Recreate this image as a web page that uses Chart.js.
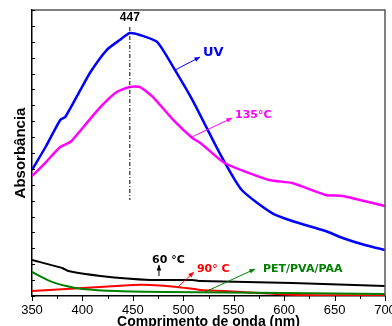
<!DOCTYPE html>
<html>
<head>
<meta charset="utf-8">
<script src="https://cdn.jsdelivr.net/npm/chart.js@4"></script>
<style>
	body { margin: 0; background: #fff; }
	#wrap { width: 392px; height: 326px; }
</style>
</head>
<body>
<div id="wrap"><canvas id="chart" width="392" height="326"></canvas></div>
<script>
// comprimento de onda (nm) e absorbância
const uvX = [350, 364, 378, 383, 398, 408, 424, 437, 447, 457, 474, 490, 509, 536, 558, 588, 608, 641, 658, 680, 700];
const uvY = [0.793, 0.944, 1.108, 1.127, 1.297, 1.41, 1.548, 1.611, 1.655, 1.643, 1.599, 1.441, 1.234, 0.9, 0.667, 0.522, 0.472, 0.409, 0.365, 0.321, 0.29];

const t135X = [350, 363, 378, 388, 401, 418, 434, 447, 457, 470, 490, 509, 517, 541, 585, 608, 641, 658, 700];
const t135Y = [0.755, 0.837, 0.938, 0.969, 1.064, 1.19, 1.284, 1.315, 1.315, 1.252, 1.108, 0.994, 0.963, 0.837, 0.73, 0.711, 0.636, 0.629, 0.566];

const t60X = [350, 380, 386, 418, 467, 509, 517, 608, 700];
const t60Y = [0.227, 0.176, 0.157, 0.126, 0.101, 0.101, 0.094, 0.082, 0.063];

const t90X = [350, 384, 450, 467, 494, 517, 541, 608, 650, 700];
const t90Y = [0.031, 0.044, 0.069, 0.069, 0.057, 0.038, 0.031, 0.008, 0.005, 0.004];

const petX = [350, 368, 384, 400, 434, 484, 600, 700];
const petY = [0.151, 0.094, 0.063, 0.044, 0.031, 0.025, 0.019, 0.013];

const xTicks = [350, 400, 450, 500, 550, 600, 650, 700];

const peak = 447;

// rótulos com seta: [texto, cor, x0, y0, x1, y1, xTexto, yTexto, tamanho]
const labels = [
	['UV', '#0000ff', 491.8, 1.422, 516.6, 1.504, 519.5, 1.529, 13],
	['135°C', '#ff00ff', 508.6, 1.001, 548.3, 1.12, 551.3, 1.139, 11],
	['60 °C', '#000000', 475.9, 0.126, 475.9, 0.196, 469, 0.227, 11],
	['90° C', '#ff0000', 494.8, 0.057, 510.5, 0.151, 513.5, 0.17, 11],
	['PET/PVA/PAA', '#008000', 521.5, 0.025, 571.1, 0.17, 579, 0.17, 11],
];

function pts(xs, ys) {
	return xs.map((x, i) => ({ x: x, y: ys[i] }));
}

function arrow(ctx, x0, y0, x1, y1, color) {
	const a = Math.atan2(y1 - y0, x1 - x0);
	ctx.strokeStyle = color;
	ctx.fillStyle = color;
	ctx.lineWidth = 1;
	ctx.beginPath();
	ctx.moveTo(x0, y0);
	ctx.lineTo(x1, y1);
	ctx.stroke();
	ctx.beginPath();
	ctx.moveTo(x1, y1);
	ctx.lineTo(x1 - 6 * Math.cos(a - 0.4), y1 - 6 * Math.sin(a - 0.4));
	ctx.lineTo(x1 - 6 * Math.cos(a + 0.4), y1 - 6 * Math.sin(a + 0.4));
	ctx.closePath();
	ctx.fill();
}

const extras = {
	id: 'extras',
	afterDraw(chart) {
		const ctx = chart.ctx;
		const xs = chart.scales.x;
		const ys = chart.scales.y;
		const area = chart.chartArea;
		ctx.save();

		// moldura de cima e da direita
		ctx.strokeStyle = '#555';
		ctx.lineWidth = 1.5;
		ctx.beginPath();
		ctx.moveTo(area.left, area.top);
		ctx.lineTo(area.right, area.top);
		ctx.lineTo(area.right, area.bottom);
		ctx.stroke();

		// marcas do eixo x (para fora)
		ctx.strokeStyle = '#000';
		ctx.lineWidth = 1;
		for (let v = 350; v <= 700; v += 25) {
			const px = Math.round(xs.getPixelForValue(v)) + 0.5;
			const len = v % 50 === 0 ? 5 : 3;
			ctx.beginPath();
			ctx.moveTo(px, area.bottom);
			ctx.lineTo(px, area.bottom + len);
			ctx.stroke();
		}
		// marcas do eixo y (para dentro)
		ys.ticks.forEach((t) => {
			const py = Math.round(ys.getPixelForValue(t.value)) + 0.5;
			ctx.beginPath();
			ctx.moveTo(area.left, py);
			ctx.lineTo(area.left + 3, py);
			ctx.stroke();
		});

		// linha do pico
		const pk = xs.getPixelForValue(peak);
		ctx.setLineDash([4, 2, 1, 2]);
		ctx.beginPath();
		ctx.moveTo(pk, ys.getPixelForValue(1.693));
		ctx.lineTo(pk, ys.getPixelForValue(0.604));
		ctx.stroke();
		ctx.setLineDash([]);
		ctx.fillStyle = '#000';
		ctx.font = 'bold 12px "Liberation Sans", Arial';
		ctx.textAlign = 'center';
		ctx.textBaseline = 'middle';
		ctx.fillText(String(peak), xs.getPixelForValue(peak), ys.getPixelForValue(1.75));

		// rótulos das curvas
		ctx.textAlign = 'left';
		labels.forEach((l) => {
			arrow(ctx, xs.getPixelForValue(l[2]), ys.getPixelForValue(l[3]),
				xs.getPixelForValue(l[4]), ys.getPixelForValue(l[5]), l[1]);
			ctx.fillStyle = l[1];
			ctx.font = 'bold ' + l[8] + 'px "DejaVu Sans"';
			ctx.fillText(l[0], xs.getPixelForValue(l[6]), ys.getPixelForValue(l[7]));
		});
		ctx.restore();
	},
};

function line(label, data, color, width) {
	return {
		label: label,
		data: data,
		borderColor: color,
		borderWidth: width,
		pointRadius: 0,
		tension: 0.2,
		fill: false,
	};
}

const ctx = document.getElementById('chart').getContext('2d');
const myChart = new Chart(ctx, {
	type: 'line',
	data: {
		datasets: [
			line('PET/PVA/PAA', pts(petX, petY), '#008000', 2),
			line('90 °C', pts(t90X, t90Y), '#ff0000', 2),
			line('60 °C', pts(t60X, t60Y), '#000000', 2),
			line('135 °C', pts(t135X, t135Y), '#ff00ff', 2.5),
			line('UV', pts(uvX, uvY), '#0000ff', 2.5),
		],
	},
	options: {
		responsive: false,
		animation: false,
		layout: { padding: { top: 10, right: 7, left: 0, bottom: 0 } },
		plugins: {
			legend: { display: false },
			tooltip: { enabled: false },
		},
		scales: {
			x: {
				type: 'linear',
				min: 350,
				max: 700,
				afterBuildTicks: (s) => {
					s.ticks = xTicks.map((v) => ({ value: v }));
				},
				afterFit: (s) => {
					s.height = 30;
					s.paddingLeft = 0;
					s.paddingRight = 0;
				},
				ticks: {
					color: '#000',
					padding: 7,
					maxRotation: 0,
					autoSkip: false,
					font: { family: '"Liberation Sans", Arial', size: 13 },
				},
				grid: { display: false, drawTicks: false },
				border: { color: '#000', width: 1.5 },
				title: {
					display: true,
					text: 'Comprimento de onda (nm)',
					color: '#000',
					font: { family: '"Liberation Sans", Arial', size: 14, weight: 'bold' },
					padding: { top: 0, bottom: -5 },
				},
			},
			y: {
				min: 0,
				max: 1.8,
				afterFit: (s) => {
					s.width = 32;
				},
				ticks: { display: false, stepSize: 0.1 },
				grid: { display: false, drawTicks: false },
				border: { color: '#000', width: 1.5 },
				title: {
					display: true,
					text: 'Absorbância',
					color: '#000',
					font: { family: '"Liberation Sans", Arial', size: 15, weight: 'bold' },
					padding: { top: 12, bottom: 0 },
				},
			},
		},
	},
	plugins: [extras],
});
</script>
</body>
</html>
